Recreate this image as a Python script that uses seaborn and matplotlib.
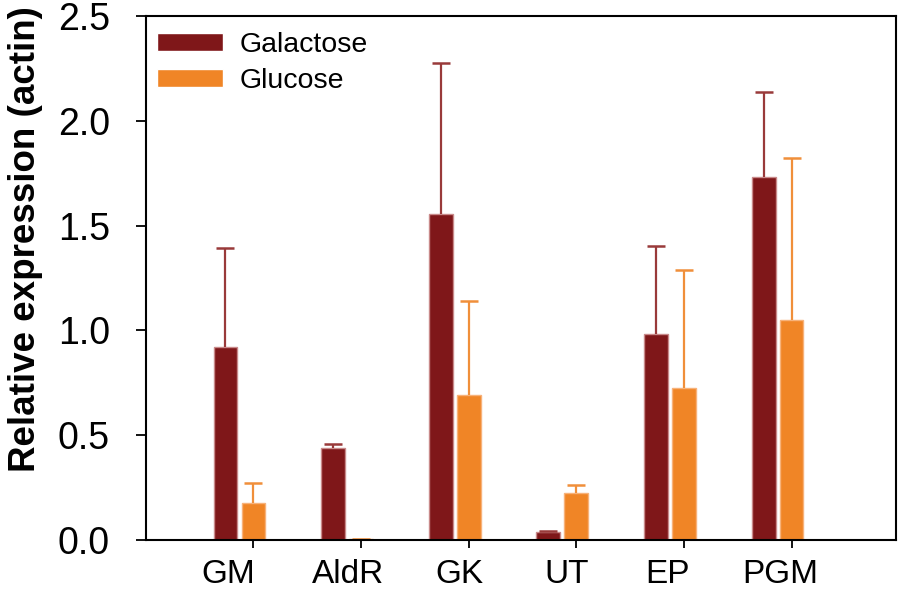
import numpy as np
import pandas as pd
import matplotlib
matplotlib.use("Agg")
import matplotlib.pyplot as plt
import seaborn as sns

genes = ["GM", "AldR", "GK", "UT", "EP", "PGM"]
conditions = ["Galactose", "Glucose"]
galactose = [0.92, 0.437, 1.557, 0.038, 0.981, 1.733]
galactose_err = [0.475, 0.020, 0.719, 0.005, 0.421, 0.405]
glucose = [0.175, 0.003, 0.692, 0.222, 0.725, 1.048]
glucose_err = [0.098, 0.003, 0.448, 0.041, 0.565, 0.776]
y_ticks = [0.0, 0.5, 1.0, 1.5, 2.0, 2.5]

colors = {"Galactose": "#7f1719", "Glucose": "#f08526"}
edge_colors = {"Galactose": "#c98a8a", "Glucose": "#f7b27a"}
err_colors = {"Galactose": "#993a3a", "Glucose": "#f08f3a"}

sns.set_style("ticks")
plt.rcParams["font.family"] = ["Liberation Sans", "DejaVu Sans"]
for k in ["text.color", "axes.labelcolor", "xtick.color", "ytick.color", "axes.edgecolor"]:
    plt.rcParams[k] = "black"

df = pd.DataFrame({
    "gene": genes * 2,
    "condition": ["Galactose"] * len(genes) + ["Glucose"] * len(genes),
    "value": galactose + glucose,
})

fig = plt.figure(figsize=(8.98, 5.97), dpi=100)
ax = fig.add_axes([146 / 898, 1 - 540 / 597, 750 / 898, 524 / 597])

sns.barplot(data=df, x="gene", y="value", hue="condition", order=genes,
            hue_order=conditions, palette=colors, width=0.52, gap=0.15,
            errorbar=None, ax=ax, linewidth=1.0, saturation=1)

errs = {"Galactose": galactose_err, "Glucose": glucose_err}
centers = {}
for cond, cont in zip(conditions, ax.containers):
    xs, hs = [], []
    for p in cont.patches:
        p.set_edgecolor(edge_colors[cond])
        xs.append(p.get_x() + p.get_width() / 2)
        hs.append(p.get_height())
    centers[cond] = xs
    e = np.array(errs[cond])
    hs = np.array(hs)
    # upper error bar only: stem from bar top, cap at the top end
    ax.errorbar(xs, hs, yerr=[np.zeros_like(e), e], fmt="none",
                ecolor=err_colors[cond], elinewidth=1.6, capsize=0, zorder=1)
    ax.plot(xs, hs + e, ls="none", marker="_", ms=12.5, mew=1.8,
            color=err_colors[cond], zorder=1)

ax.set_ylim(0, 2.5)
ax.set_xlim(-0.868, 6.1)
ax.set_yticks(y_ticks)
ax.set_yticklabels([f"{t:.1f}" for t in y_ticks])

# major ticks at the glucose bars (unlabelled), labels as minor ticks
ax.set_xticks(centers["Glucose"])
ax.set_xticklabels([""] * len(genes))
label_pos = [-0.10, 1.01, 2.04, 3.04, 3.98, 5.02]
ax.set_xticks(label_pos, minor=True)
ax.set_xticklabels(genes, minor=True)
ax.tick_params(axis="x", which="minor", length=0, pad=14, labelsize=24)
ax.tick_params(axis="x", which="major", length=6, width=1.3, direction="out")
ax.tick_params(axis="y", length=7, width=1.3, pad=19, labelsize=27)

ax.set_xlabel("")
ax.set_ylabel("Relative expression (actin)", fontsize=26.5, fontweight="bold")
ax.yaxis.set_label_coords(-0.137, 0.574)

for s in ax.spines.values():
    s.set_visible(True)
    s.set_linewidth(1.5)
    s.set_color("black")

leg = ax.legend(loc="upper left", bbox_to_anchor=(0.0147, 0.969), frameon=False,
                fontsize=20.5, borderpad=0, borderaxespad=0, handlelength=2.3,
                handleheight=0.6, handletextpad=0.6, labelspacing=0.35)

fig.savefig("out.png", dpi=100)
